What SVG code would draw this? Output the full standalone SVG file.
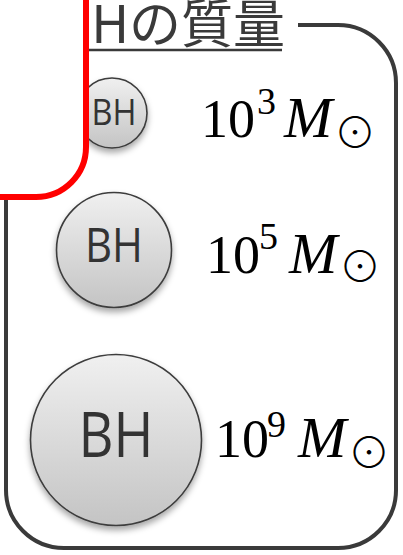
<svg xmlns="http://www.w3.org/2000/svg" width="403" height="555" viewBox="0 0 403 555">
<defs>
<linearGradient id="bhFill" x1="0" y1="0" x2="0" y2="1">
<stop offset="0" stop-color="#f0f0f0"/>
<stop offset="1" stop-color="#c4c4c4"/>
</linearGradient>
<filter id="shadow" x="-30%" y="-30%" width="160%" height="160%">
<feDropShadow dx="0" dy="4" stdDeviation="3" flood-color="#000" flood-opacity="0.35"/>
</filter>
</defs>
<style>
.bh{fill:url(#bhFill);stroke:#3c3c3c;stroke-width:1.6;filter:url(#shadow)}
.bhl{font-family:"Open Sans","Noto Sans",sans-serif;fill:#333;text-anchor:middle}
.num{font-family:"Liberation Serif",serif;fill:#000}
.mi{font-family:"Liberation Serif",serif;font-style:italic;fill:#000}
.sun{font-family:"Noto Sans CJK JP","DejaVu Sans",sans-serif;font-weight:300;fill:#000;text-anchor:middle}
</style>
<g id="frame">
<rect x="6" y="25" width="390" height="523" rx="58" ry="58" fill="#fff" stroke="#3a3a3a" stroke-width="4"/>
</g>
<g id="title">
<rect x="0" y="0" width="298" height="56" fill="#fff"/>
<text x="285" y="43" font-family="'Noto Sans CJK JP',sans-serif" font-size="52" fill="#3a3a3a" text-anchor="end">BHの質量</text>
<line x1="0" y1="50" x2="282" y2="50" stroke="#3a3a3a" stroke-width="2.5"/>
</g>
<g id="bh1">
<circle class="bh" cx="112" cy="113" r="35"/>
<text class="bhl" x="114" y="125" font-size="36" textLength="45" lengthAdjust="spacingAndGlyphs">BH</text>
</g>
<g id="bh2">
<circle class="bh" cx="114" cy="250" r="57.5"/>
<text class="bhl" x="114" y="262" font-size="48" textLength="58" lengthAdjust="spacingAndGlyphs">BH</text>
</g>
<g id="bh3">
<circle class="bh" cx="116" cy="440" r="85.5"/>
<text class="bhl" x="116" y="457" font-size="62" textLength="75" lengthAdjust="spacingAndGlyphs">BH</text>
</g>
<g id="mass1">
<text class="num" x="201" y="137" font-size="54">10</text>
<text class="num" x="257" y="114" font-size="38">3</text>
<text class="mi" x="284" y="137" font-size="58">M</text>
<text class="sun" x="355" y="148" font-size="42">⊙</text>
</g>
<g id="mass2">
<text class="num" x="206" y="273" font-size="54">10</text>
<text class="num" x="259" y="249" font-size="38">5</text>
<text class="mi" x="289" y="273" font-size="58">M</text>
<text class="sun" x="360" y="282" font-size="42">⊙</text>
</g>
<g id="mass3">
<text class="num" x="215" y="457" font-size="54">10</text>
<text class="num" x="267" y="437" font-size="38">9</text>
<text class="mi" x="298" y="457" font-size="58">M</text>
<text class="sun" x="369" y="468" font-size="42">⊙</text>
</g>
<g id="redbox">
<rect x="-100" y="-100" width="186" height="297" rx="50" ry="50" fill="#fff" stroke="#ff0000" stroke-width="6"/>
</g>
</svg>
